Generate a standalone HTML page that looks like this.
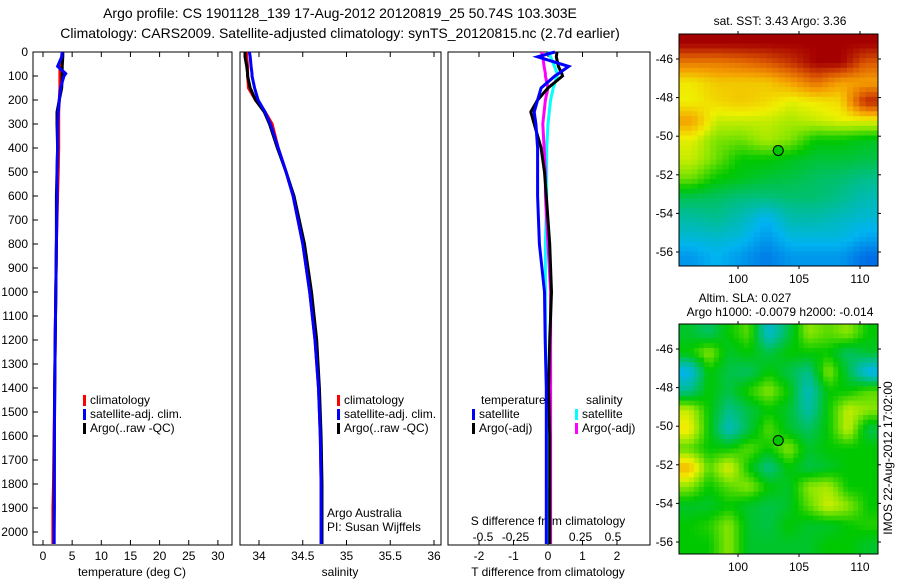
<!DOCTYPE html>
<html><head><meta charset="utf-8"><style>
body{margin:0;background:#fff;}
svg{display:block;font-family:"Liberation Sans",sans-serif;font-size:12px;}
</style></head><body>
<svg id="fig" width="900" height="580" viewBox="0 0 900 580">
<text x="340" y="18" text-anchor="middle" font-size="14">Argo profile: CS 1901128_139 17-Aug-2012 20120819_25 50.74S 103.303E</text>
<text x="340" y="38" text-anchor="middle" font-size="14">Climatology: CARS2009. Satellite-adjusted climatology: synTS_20120815.nc (2.7d earlier)</text>
</svg>
<script>
// ---- data ----
const depthTicks=[0,100,200,300,400,500,600,700,800,900,1000,1100,1200,1300,1400,1500,1600,1700,1800,1900,2000];
const tempTicks=[0,5,10,15,20,25,30];
const salTicks=[34,34.5,35,35.5,36];
const tdiffTicks=[-2,-1,0,1,2];
const sdiffTicks=[-0.5,-0.25,0,0.25,0.5];
const profDepths=[0,20,60,90,100,150,200,250,300,400,500,600,800,1000,1200,1400,1600,1800,1900,2000,2050];
const tempClim=[3.3,3.2,2.9,2.9,2.9,2.9,2.8,2.7,2.7,2.7,2.6,2.5,2.3,2.2,2.1,2.0,1.9,1.8,1.7,1.7,1.7];
const tempSat=[3.3,3.2,2.5,3.9,3.6,3.0,2.8,2.6,2.5,2.5,2.4,2.4,2.3,2.2,2.1,2.0,1.95,1.95,1.95,1.9,1.9];
const tempArgo=[3.4,3.4,3.3,3.3,3.3,3.2,2.8,2.4,2.4,2.5,2.4,2.3,2.3,2.2,2.1,2.0,1.95,1.9,1.9,1.9,1.9];
const salClim=[33.86,33.86,33.87,33.87,33.87,33.88,33.96,34.07,34.15,34.22,34.31,34.39,34.50,34.58,34.64,34.68,34.70,34.71,34.71,34.71,34.71];
const salSat=[33.89,33.90,33.91,33.92,33.92,33.95,33.99,34.07,34.13,34.22,34.31,34.39,34.50,34.58,34.64,34.68,34.70,34.71,34.71,34.71,34.71];
const salArgo=[33.84,33.84,33.86,33.87,33.87,33.90,33.96,34.06,34.12,34.21,34.31,34.40,34.52,34.60,34.66,34.69,34.71,34.72,34.72,34.72,34.72];
const tdSat=[0.2,-0.3,0.6,0.3,0.2,-0.2,-0.3,-0.4,-0.35,-0.3,-0.3,-0.3,-0.25,-0.1,-0.08,-0.05,-0.05,-0.05,-0.05,-0.05,-0.05];
const tdArgo=[0.26,0.24,0.3,0.4,0.42,0.0,-0.3,-0.5,-0.4,-0.2,-0.1,-0.05,0.05,0.1,0.05,0.02,0.05,0.05,0.05,0.05,0.05];
const sdSat=[0.0,0.02,0.05,0.07,0.07,0.04,0.02,0.01,0.0,-0.01,-0.01,-0.01,-0.02,-0.02,-0.02,-0.01,-0.01,-0.01,0.0,0.0,0.0];
const sdArgo=[-0.05,-0.04,-0.03,-0.02,-0.02,0.0,-0.02,-0.03,-0.04,-0.03,-0.02,-0.02,0.0,0.02,0.02,0.02,0.02,0.02,0.02,0.02,0.02];
const lonTicks=[100,105,110];
const latTicks=[-46,-48,-50,-52,-54,-56];
const argoLon=103.3, argoLat=-50.74;
const sstGrid=[
[0.97,0.97,0.97,0.97,0.97,0.97,0.97,0.97],
[0.8,0.8,0.82,0.85,0.9,0.97,0.97,0.85],
[0.66,0.7,0.7,0.7,0.75,0.82,0.75,0.75],
[0.65,0.68,0.7,0.68,0.64,0.66,0.68,0.92],
[0.75,0.62,0.62,0.62,0.6,0.62,0.64,0.64],
[0.64,0.57,0.56,0.6,0.57,0.5,0.5,0.48],
[0.62,0.56,0.5,0.5,0.48,0.46,0.46,0.45],
[0.56,0.5,0.48,0.46,0.45,0.43,0.42,0.4],
[0.44,0.43,0.41,0.41,0.42,0.42,0.4,0.36],
[0.38,0.4,0.36,0.3,0.37,0.37,0.35,0.33],
[0.33,0.34,0.32,0.26,0.32,0.32,0.32,0.28],
[0.26,0.3,0.26,0.22,0.26,0.26,0.26,0.2]];
const slaGrid=[
[0.47,0.43,0.5,0.55,0.33,0.45,0.58,0.55,0.58,0.5],
[0.5,0.58,0.47,0.5,0.45,0.5,0.5,0.5,0.43,0.47],
[0.3,0.5,0.45,0.43,0.5,0.45,0.4,0.58,0.45,0.3],
[0.4,0.5,0.45,0.52,0.58,0.5,0.35,0.5,0.5,0.55],
[0.62,0.5,0.4,0.45,0.5,0.47,0.37,0.5,0.62,0.58],
[0.66,0.5,0.35,0.45,0.55,0.47,0.43,0.5,0.62,0.45],
[0.55,0.5,0.5,0.55,0.5,0.58,0.47,0.5,0.5,0.5],
[0.72,0.55,0.64,0.5,0.4,0.5,0.45,0.47,0.5,0.5],
[0.58,0.5,0.55,0.58,0.5,0.47,0.58,0.6,0.5,0.5],
[0.47,0.47,0.5,0.47,0.45,0.47,0.55,0.63,0.58,0.5],
[0.5,0.52,0.58,0.47,0.45,0.5,0.47,0.47,0.5,0.52],
[0.5,0.5,0.58,0.47,0.47,0.47,0.47,0.5,0.5,0.47]];

const NS='http://www.w3.org/2000/svg';
const svg=document.getElementById('fig');
function mk(tag,attrs,parent){const e=document.createElementNS(NS,tag);for(const k in attrs)e.setAttribute(k,attrs[k]);(parent||svg).appendChild(e);return e;}
function txt(x,y,s,anchor,parent){const t=mk('text',{x:x,y:y,'text-anchor':anchor||'start'},parent);t.textContent=s;return t;}
const yD=d=>52+0.24*d;
const PY0=52, PY1=545;

function panel(x0,x1,name){
  const r=mk('rect',{x:x0,y:PY0,width:x1-x0,height:PY1-PY0,fill:'none',stroke:'#000','stroke-width':1});
  
  
}
function line(xs,fx,color,name,w){
  const pts=profDepths.map((d,i)=>fx(xs[i]).toFixed(1)+','+yD(d).toFixed(1)).join(' ');
  const p=mk('polyline',{points:pts,fill:'none',stroke:color,'stroke-width':w||3});
  
  
}
function xticks(ticks,fx,labelY,fmt,name){
  ticks.forEach(v=>{const x=fx(v);
    mk('line',{x1:x,x2:x,y1:PY0,y2:PY0+5,stroke:'#000'});
    mk('line',{x1:x,x2:x,y1:PY1,y2:PY1-5,stroke:'#000'});
    if(labelY){const t=txt(x,labelY,fmt?fmt(v):String(v),'middle');
      
      }
  });
}
// panel 1
const fT=v=>43+5.83*v;
panel(33,232,'temperature-panel');
depthTicks.forEach(d=>{mk('line',{x1:33,x2:38,y1:yD(d),y2:yD(d),stroke:'#000'});
  const t=txt(28,yD(d)+4,String(d),'end');
  
  });
xticks(tempTicks,fT,560,null,'temperature');
line(tempClim,fT,'#f00','temp-climatology-line');
line(tempArgo,fT,'#000','temp-argo-line');
line(tempSat,fT,'#00f','temp-satellite-line');
let t=txt(132,576,'temperature (deg C)','middle');
function legend(x,y,items,name){items.forEach((it,i)=>{
  const r=mk('rect',{x:x,y:y+i*14-9,width:3,height:11,fill:it[1]});
  
  const tt=txt(x+7,y+i*14,it[0]);});}
legend(83,404,[['climatology','#f00'],['satellite-adj. clim.','#00f'],['Argo(..raw -QC)','#000']],'temp-legend');
// panel 2
const fS=v=>259+87.5*(v-34);
panel(240,441,'salinity-panel');
xticks(salTicks,fS,560,null,'salinity');
line(salClim,fS,'#f00','sal-climatology-line');
line(salArgo,fS,'#000','sal-argo-line');
line(salSat,fS,'#00f','sal-satellite-line');
t=txt(340,576,'salinity','middle');
legend(337,404,[['climatology','#f00'],['satellite-adj. clim.','#00f'],['Argo(..raw -QC)','#000']],'sal-legend');
t=txt(327,517,'Argo Australia');
t=txt(327,531,'PI: Susan Wijffels');
// panel 3
const fTD=v=>548+34.5*v;
const fSD=v=>548+130*v;
panel(448,650,'difference-panel');
xticks(tdiffTicks,fTD,560,null,'tdiff');
sdiffTicks.forEach(v=>{const tt=txt(fSD(v),541,String(v),'middle');});
t=txt(548,525,'S difference from climatology','middle');
t=txt(548,576,'T difference from climatology','middle');
line(sdSat,fSD,'#0ff','sdiff-satellite-line');
line(sdArgo,fSD,'#f0f','sdiff-argo-line');
line(tdArgo,fTD,'#000','tdiff-argo-line');
line(tdSat,fTD,'#00f','tdiff-satellite-line');
t=txt(481,404,'temperature');
t=txt(586,404,'salinity');
legend(472,418,[['satellite','#00f'],['Argo(-adj)','#000']],'tdiff-legend');
legend(575,418,[['satellite','#0ff'],['Argo(-adj)','#f0f']],'sdiff-legend');

// maps
const cmapStops=[[0,0,40,180],[0.2,0,110,230],[0.3,0,180,240],[0.4,0,190,140],[0.5,0,200,0],[0.58,140,230,0],[0.65,240,240,0],[0.75,245,160,0],[0.85,220,90,0],[0.97,165,0,0],[1,160,0,0]];
function cmap(v){v=Math.max(0,Math.min(1,v));
  for(let k=1;k<cmapStops.length;k++){const a=cmapStops[k-1],b=cmapStops[k];
    if(v<=b[0]){const f=(v-a[0])/(b[0]-a[0]);
      return 'rgb('+[1,2,3].map(c=>Math.round(a[c]+(b[c]-a[c])*f)).join(',')+')';}}
  return 'rgb(160,0,0)';}
function sample(grid,fi,fj){
  const R=grid.length,C=grid[0].length;
  fi=Math.max(0,Math.min(R-1,fi));fj=Math.max(0,Math.min(C-1,fj));
  const i0=Math.floor(fi),j0=Math.floor(fj),i1=Math.min(R-1,i0+1),j1=Math.min(C-1,j0+1);
  const a=fi-i0,b=fj-j0;
  return grid[i0][j0]*(1-a)*(1-b)+grid[i1][j0]*a*(1-b)+grid[i0][j1]*(1-a)*b+grid[i1][j1]*a*b;
}
function map(grid,x0,x1,yTop,yBot,lat46y,name){
  const fx=lon=>738+12.2*(lon-100);
  const fy=lat=>lat46y+19.3*(-46-lat);
  const rows=grid.length, cols=grid[0].length;
  const SUB=4;
  const ch=(yBot-yTop)/(rows*SUB), cw=(x1-x0)/(cols*SUB);
  for(let i=0;i<rows*SUB;i++)for(let j=0;j<cols*SUB;j++){
    const v=sample(grid,(i+0.5)/SUB-0.5,(j+0.5)/SUB-0.5);
    const c=mk('rect',{x:(x0+j*cw).toFixed(2),y:(yTop+i*ch).toFixed(2),width:(cw+0.5).toFixed(2),height:(ch+0.5).toFixed(2),fill:cmap(v)});
    
    
  }
  const f=mk('rect',{x:x0,y:yTop,width:x1-x0,height:yBot-yTop,fill:'none',stroke:'#000'});
  
  latTicks.forEach(l=>{const y=fy(l);mk('line',{x1:x0-3,x2:x0,y1:y,y2:y,stroke:'#000'});mk('line',{x1:x1,x2:x1+3,y1:y,y2:y,stroke:'#000'});
    const tt=txt(x0-6,y+4,String(l),'end');});
  lonTicks.forEach(l=>{const x=fx(l);mk('line',{x1:x,x2:x,y1:yBot,y2:yBot+3,stroke:'#000'});mk('line',{x1:x,x2:x,y1:yTop-3,y2:yTop,stroke:'#000'});
    const tt=txt(x,yBot+17,String(l),'middle');});
  const m=mk('circle',{cx:fx(argoLon),cy:fy(argoLat),r:5,fill:'#00c800',stroke:'#000'});
  
}
map(sstGrid,679,878,34,266,59,'sst-map');
map(slaGrid,679,878,324,554,349,'sla-map');
t=txt(780,25,'sat. SST: 3.43 Argo: 3.36','middle');
t=txt(745,302,'Altim. SLA: 0.027','middle');
t=txt(780,316,'Argo h1000: -0.0079 h2000: -0.014','middle');
t=txt(0,0,'IMOS 22-Aug-2012 17:02:00','middle');
t.setAttribute('transform','translate(892,458) rotate(-90)');

</script>
</body></html>
